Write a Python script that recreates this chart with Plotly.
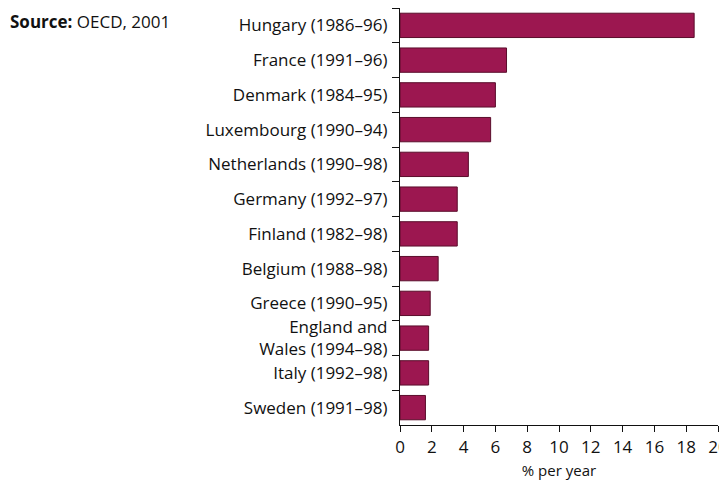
import plotly.graph_objects as go

countries = ["Hungary (1986–96)", "France (1991–96)", "Denmark (1984–95)",
             "Luxembourg (1990–94)", "Netherlands (1990–98)", "Germany (1992–97)",
             "Finland (1982–98)", "Belgium (1988–98)", "Greece (1990–95)",
             "England and<br>Wales (1994–98)", "Italy (1992–98)", "Sweden (1991–98)"]
growth = [18.5, 6.7, 6.0, 5.7, 4.3, 3.6, 3.6, 2.4, 1.9, 1.8, 1.8, 1.6]
x_ticks = list(range(0, 21, 2))

bar_color = "#9c1750"
font = "'Open Sans', Lato, sans-serif"

fig = go.Figure(go.Bar(
    x=growth, y=countries, orientation="h",
    marker=dict(color=bar_color, line=dict(color="#5a0d2b", width=1)),
))

# page body has an 8px margin, so the figure is shifted right/down by 8px
fig.update_layout(
    width=727, height=481,
    margin=dict(l=392, r=17, t=0, b=64, autoexpand=False),
    plot_bgcolor="white", paper_bgcolor="white",
    font=dict(family=font, size=17, color="#111"),
    bargap=0.3,
    showlegend=False,
    annotations=[dict(
        text="<b>Source:</b> OECD, 2001",
        xref="paper", yref="paper", x=-392 / 318, y=1.0,
        xanchor="left", yanchor="top", yshift=0, showarrow=False,
        font=dict(size=17))],
)

fig.update_xaxes(
    range=[0, 20], tickvals=x_ticks, showgrid=False, zeroline=False,
    showline=True, linecolor="#111", linewidth=1.2,
    ticks="outside", ticklen=6, tickcolor="#111",
    title=dict(text="% per year", font=dict(size=15), standoff=8),
    tickfont=dict(size=17), automargin=False, ticklabeloverflow="allow",
)
fig.update_yaxes(
    autorange="reversed", showgrid=False, zeroline=False,
    showline=True, linecolor="#111", linewidth=1.2,
    ticks="outside", tickson="boundaries", ticklen=7, tickcolor="#111",
    ticklabelstandoff=8, automargin=False,
)

fig.write_html("out.html")
